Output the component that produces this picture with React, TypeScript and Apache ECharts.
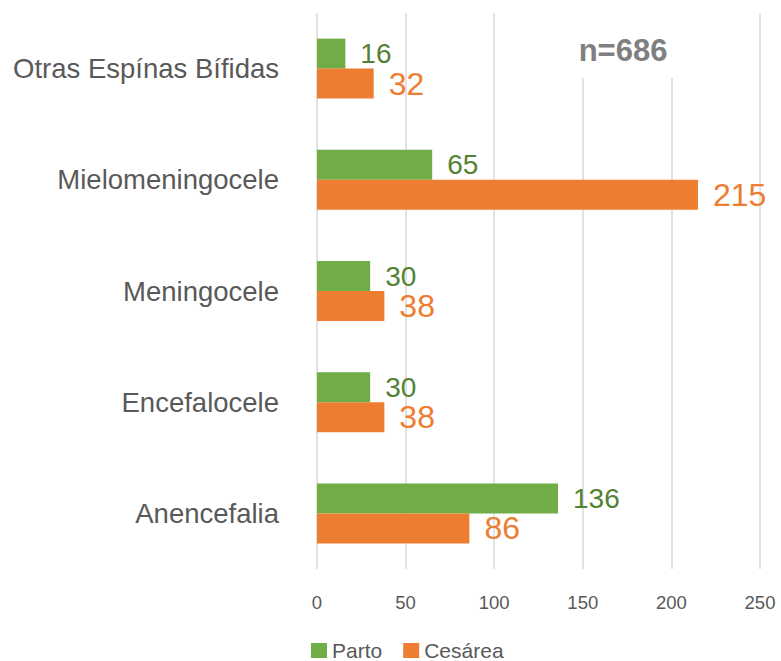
import React, { useEffect, useRef } from "react";
import * as echarts from "echarts";

const categories = [
  "Otras Espínas Bífidas",
  "Mielomeningocele",
  "Meningocele",
  "Encefalocele",
  "Anencefalia",
];
const partoValues = [16, 65, 30, 30, 136];
const cesareaValues = [32, 215, 38, 38, 86];
const seriesNames = ["Parto", "Cesárea"];
const FONT = "Liberation Sans";

export default function App() {
  const ref = useRef<HTMLDivElement>(null);
  useEffect(() => {
    document.body.style.margin = "0";
    const chart = echarts.init(ref.current!, null, { renderer: "svg" });
    chart.setOption({
      animation: false,
      backgroundColor: "#ffffff",
      grid: { left: 317, right: 21, top: 13, height: 556, containLabel: false },
      xAxis: {
        type: "value",
        min: 0,
        max: 250,
        interval: 50,
        axisLine: { show: false },
        axisTick: { show: false },
        splitLine: { show: true, lineStyle: { color: "#D9D9D9", width: 1.5 } },
        axisLabel: { color: "#595959", fontSize: 18.5, fontFamily: FONT, margin: 24 },
      },
      yAxis: {
        type: "category",
        inverse: true,
        data: categories,
        axisLine: { show: false },
        axisTick: { show: false },
        axisLabel: { color: "#595959", fontSize: 27.5, fontFamily: FONT, margin: 38 },
      },
      legend: {
        data: seriesNames,
        left: 306,
        top: 640,
        padding: [0, 5, 0, 5],
        itemWidth: 16,
        itemHeight: 15,
        itemGap: 21,
        icon: "rect",
        textStyle: { color: "#595959", fontSize: 21, lineHeight: 20, fontFamily: FONT },
      },
      series: [
        {
          name: seriesNames[0],
          type: "bar",
          data: partoValues,
          barWidth: 30,
          barGap: "0%",
          itemStyle: { color: "#70AD47" },
          label: {
            show: true,
            position: "right",
            distance: 15,
            color: "#548235",
            fontSize: 28,
            fontFamily: FONT,
          },
        },
        {
          name: seriesNames[1],
          type: "bar",
          data: cesareaValues,
          barWidth: 30,
          barGap: "0%",
          itemStyle: { color: "#ED7D31" },
          label: {
            show: true,
            position: "right",
            distance: 15,
            color: "#ED7D31",
            fontSize: 32,
            fontFamily: FONT,
          },
        },
      ],
      graphic: [
        {
          type: "rect",
          shape: { x: 565, y: 12, width: 120, height: 66 },
          style: { fill: "#ffffff" },
          z: 50,
        },
        {
          type: "text",
          x: 623,
          y: 50,
          z: 51,
          style: {
            text: "n=686",
            fill: "#7F7F7F",
            font: `bold 31px "${FONT}"`,
            textAlign: "center",
            textVerticalAlign: "middle",
          },
        },
      ],
    });
    return () => chart.dispose();
  }, []);
  return <div ref={ref} style={{ width: 781, height: 661 }} />;
}
